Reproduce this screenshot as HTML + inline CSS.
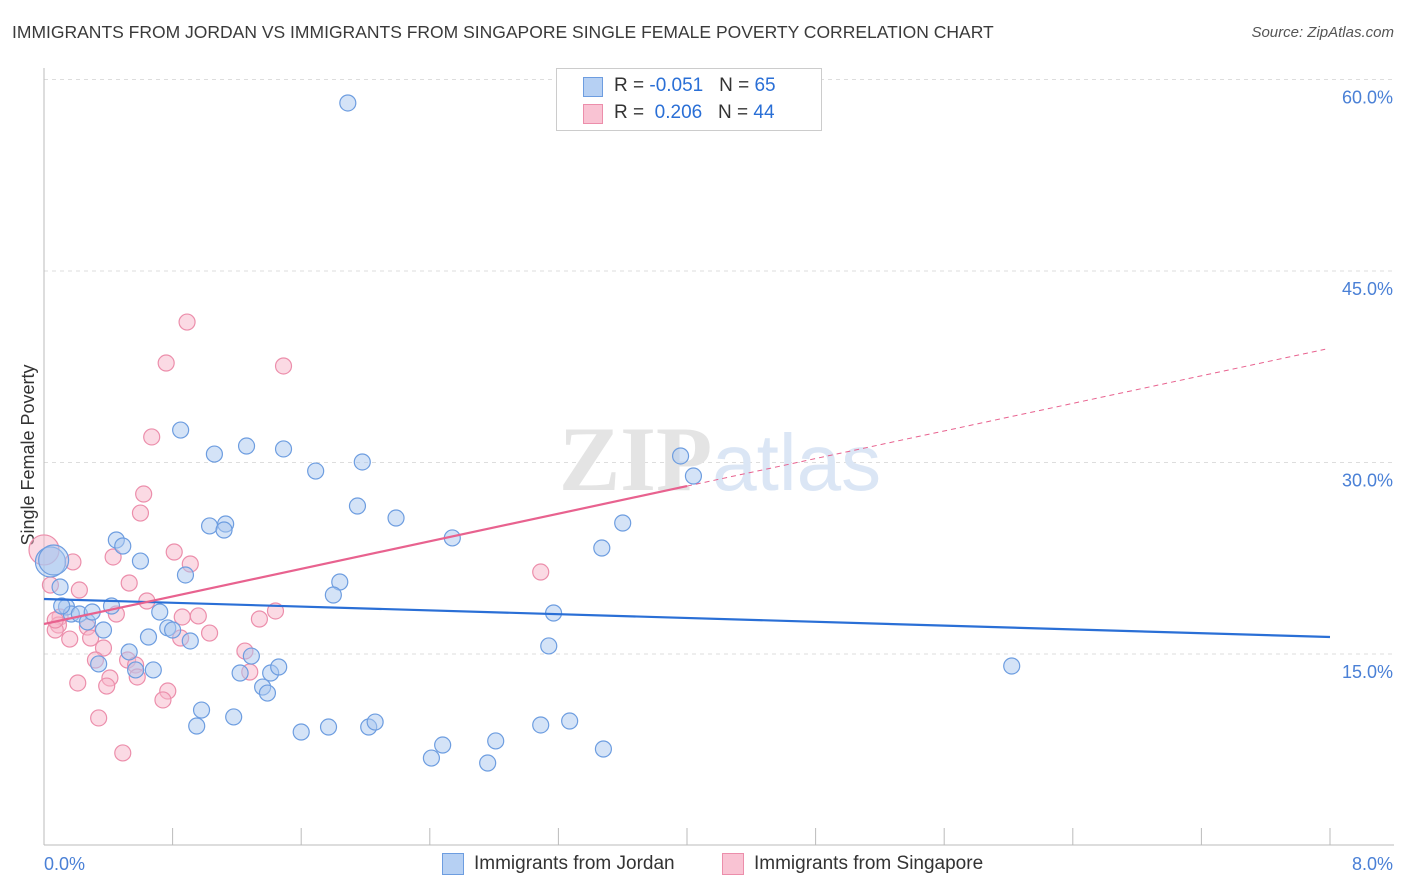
<!DOCTYPE html>
<html><head><meta charset="utf-8"><style>
body{margin:0;background:#fff;font-family:"Liberation Sans",sans-serif;}
#wrap{position:relative;width:1406px;height:892px;overflow:hidden;}
.t{position:absolute;white-space:nowrap;}
</style></head><body>
<div id="wrap">
<div class="t" style="left:12px;top:22px;font-size:17.5px;color:#3a3a3a">IMMIGRANTS FROM JORDAN VS IMMIGRANTS FROM SINGAPORE SINGLE FEMALE POVERTY CORRELATION CHART</div>
<div class="t" style="right:12px;top:24px;font-size:15px;color:#555;font-style:italic">Source: ZipAtlas.com</div>
<svg id="svg" width="1406" height="892" style="position:absolute;left:0;top:0"></svg>
</div>
<script>
const blueX=[1.89,0.85,1.06,1.26,1.49,1.69,1.98,1.95,2.19,1.03,1.13,1.12,0.45,0.49,0.60,0.88,1.84,1.80,0.10,0.04,0.06,0.14,0.17,0.22,0.27,0.30,0.42,0.37,0.72,0.77,0.80,0.65,0.91,0.53,0.57,0.68,1.29,1.22,1.41,1.46,1.36,1.39,0.98,1.18,0.95,1.60,1.77,2.02,2.06,2.48,2.41,2.76,2.81,3.09,3.27,3.48,2.54,3.17,3.14,3.47,3.60,3.96,4.04,6.02,0.34,0.11];
const blueY=[58.16,32.54,30.66,31.29,31.06,29.33,30.04,26.59,25.65,25.03,25.18,24.71,23.93,23.46,22.28,21.19,20.64,19.62,20.25,22.21,22.36,18.68,18.13,18.13,17.51,18.29,18.76,16.88,18.29,17.04,16.88,16.33,16.02,15.16,13.75,13.75,14.84,13.51,13.51,13.98,12.41,11.94,10.61,10.07,9.36,8.89,9.28,9.28,9.67,7.87,6.85,6.46,8.19,9.44,9.75,7.56,24.09,18.21,15.63,23.30,25.26,30.51,28.94,14.06,14.22,18.76];
const pinkX=[0.89,0.76,1.49,0.67,0.62,0.60,0.81,0.91,0.43,0.18,0.53,0.22,0.64,0.45,0.10,0.09,0.27,0.29,0.16,0.37,0.07,0.86,0.96,1.03,1.34,1.44,1.25,1.28,0.52,0.57,0.32,0.41,0.39,0.21,0.77,0.74,0.58,0.34,0.49,3.09,0.85,0.00,0.04,0.07];
const pinkY=[41.00,37.79,37.56,32.00,27.53,26.04,22.99,22.05,22.60,22.21,20.56,20.01,19.15,18.13,17.90,17.27,17.11,16.25,16.17,15.47,16.88,17.90,17.98,16.64,17.74,18.37,15.23,13.59,14.53,14.14,14.53,13.12,12.49,12.73,12.10,11.40,13.20,9.99,7.25,21.42,16.25,23.15,20.40,17.66];
const blueTrend=[19.31,-0.3725];
const pinkTrend=[17.35,2.70];
const yTicks=[15,30,45,60];
const xTicks=[0,0.8,1.6,2.4,3.2,4.0,4.8,5.6,6.4,7.2,8.0];

const NS="http://www.w3.org/2000/svg";
const svg=document.getElementById('svg');
const X=v=>44+v*160.75;
const Y=v=>845.5-v*12.767;
function mk(tag,attrs,parent){const e=document.createElementNS(NS,tag);for(const k in attrs)e.setAttribute(k,attrs[k]);(parent||svg).appendChild(e);return e;}

// grid
yTicks.forEach(v=>{
 const l=mk('line',{x1:44,x2:1394,y1:Y(v),y2:Y(v),stroke:'#ddd','stroke-dasharray':'4,4'});
 
 
 const t=mk('text',{x:1393,y:Y(v)+24,'text-anchor':'end','font-size':18,fill:'#4a80d6','font-family':'Liberation Sans'});
 t.textContent=v.toFixed(1)+'%';
 
 
});
// axes
const ax=mk('line',{x1:44,x2:1394,y1:845,y2:845,stroke:'#bbb'});


const ay=mk('line',{x1:44,x2:44,y1:68,y2:845,stroke:'#bbb'});


xTicks.forEach(v=>{
 const l=mk('line',{x1:X(v),x2:X(v),y1:828,y2:845,stroke:'#bbb'});
 
 
});
[[0,'start'],[8,'end']].forEach(([v,a])=>{
 const t=mk('text',{x:v===0?44:1393,y:870,'text-anchor':a,'font-size':18,fill:'#4a80d6','font-family':'Liberation Sans'});
 t.textContent=v.toFixed(1)+'%';
 
 
});
// watermark
const wm=mk('text',{x:720,y:490,'text-anchor':'middle','font-size':92,fill:'#e4e4e4','font-family':'Liberation Serif','font-weight':'bold'});
wm.innerHTML='ZIP<tspan font-family="Liberation Sans" font-weight="normal" fill="#dbe6f5" font-size="80">atlas</tspan>';


// y title
const yt=mk('text',{x:0,y:0,transform:'translate(34,455) rotate(-90)','text-anchor':'middle','font-size':18,fill:'#333','font-family':'Liberation Sans'});
yt.textContent='Single Female Poverty';


// points
function pts(xs,ys,fill,stroke,name){
 xs.forEach((x,i)=>{
  const big=(x<0.08&&ys[i]>21);
  const c=mk('circle',{cx:X(x),cy:Y(ys[i]),r:big?15:8,fill:fill,'fill-opacity':0.5,stroke:stroke,'stroke-width':1.2});
  
  
 });
}
pts(pinkX,pinkY,'#f7b6ca','#ec8eab','singapore-point');
pts(blueX,blueY,'#a9c7ef','#6d9de0','jordan-point');
// trend lines
const bl=mk('line',{x1:X(0),y1:Y(blueTrend[0]),x2:X(8),y2:Y(blueTrend[0]+8*blueTrend[1]),stroke:'#2a6fd6','stroke-width':2.2});


const pl=mk('line',{x1:X(0),y1:Y(pinkTrend[0]),x2:X(4),y2:Y(pinkTrend[0]+4*pinkTrend[1]),stroke:'#e8628f','stroke-width':2.2});


const pd=mk('line',{x1:X(4),y1:Y(pinkTrend[0]+4*pinkTrend[1]),x2:X(7.97),y2:Y(pinkTrend[0]+7.97*pinkTrend[1]),stroke:'#e8628f','stroke-width':1,'stroke-dasharray':'5,4'});


</script>
<div class="t" style="left:556px;top:68px;width:264px;height:61px;border:1px solid #ccc;background:#fff">
 <div class="t" style="left:26px;top:8px;width:18px;height:18px;background:#b6d0f3;border:1px solid #6d9de0"></div>
 <div class="t" style="left:57px;top:6px;font-size:19px;color:#333">R = <span style="color:#2a6fd6">-0.051</span>&nbsp;&nbsp;&nbsp;N = <span style="color:#2a6fd6">65</span></div>
 <div class="t" style="left:26px;top:35px;width:18px;height:18px;background:#f9c3d3;border:1px solid #ec8eab"></div>
 <div class="t" style="left:57px;top:33px;font-size:19px;color:#333">R = &nbsp;<span style="color:#2a6fd6">0.206</span>&nbsp;&nbsp;&nbsp;N = <span style="color:#2a6fd6">44</span></div>
</div>
<div class="t" style="left:442px;top:853px;width:20px;height:20px;background:#b6d0f3;border:1px solid #6d9de0"></div>
<div class="t" style="left:474px;top:853px;font-size:19px;color:#333">Immigrants from Jordan</div>
<div class="t" style="left:722px;top:853px;width:20px;height:20px;background:#f9c3d3;border:1px solid #ec8eab"></div>
<div class="t" style="left:754px;top:853px;font-size:19px;color:#333">Immigrants from Singapore</div>
</body></html>
